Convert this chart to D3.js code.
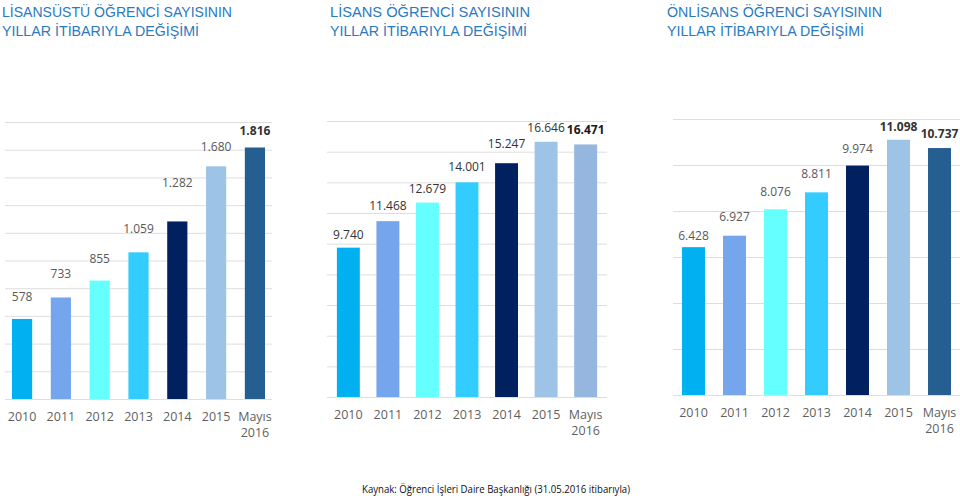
<!DOCTYPE html>
<html>
<head>
<meta charset="utf-8">
<script src="https://cdn.jsdelivr.net/npm/d3@7"></script>
<style>
  body { margin: 0; background: #fff; }
  text { font-family: "Open Sans", "Liberation Sans", sans-serif; }
  .title { font-family: "Liberation Sans", Arial, sans-serif; }
</style>
</head>
<body>
<div id="chart"></div>
<script>
// categories + values
var years = ["2010", "2011", "2012", "2013", "2014", "2015", "Mayıs 2016"];
var lisansustuValues = [578, 733, 855, 1059, 1282, 1680, 1816];
var lisansValues = [9740, 11468, 12679, 14001, 15247, 16646, 16471];
var onlisansValues = [6428, 6927, 8076, 8811, 9974, 11098, 10737];

var lisansustuTitle = ["LİSANSÜSTÜ ÖĞRENCİ SAYISININ", "YILLAR İTİBARIYLA DEĞİŞİMİ"];
var lisansTitle = ["LİSANS ÖĞRENCİ SAYISININ", "YILLAR İTİBARIYLA DEĞİŞİMİ"];
var onlisansTitle = ["ÖNLİSANS ÖĞRENCİ SAYISININ", "YILLAR İTİBARIYLA DEĞİŞİMİ"];
var sourceText = "Kaynak: Öğrenci İşleri Daire Başkanlığı (31.05.2016 itibarıyla)";

var barColors = ["#00B0F0", "#75A5EC", "#66FFFF", "#33CCFF", "#002060", "#9DC3E6", "#255E91"];

var width = 960, height = 496;

// layout of each panel
var panels = [
    {
        title: lisansustuTitle, values: lisansustuValues, max: 2000, step: 200,
        x0: 5, x1: 272, yTop: 122, yBase: 399, pi: 0.48, po: 0.18,
        titleX: 2, titleW: [230, 197],
        lastColor: "#255E91", labelColor: "#595959", boldColor: "#333333",
        bold: [6], gaps: [22, 24, 22, 24, 39, 20, 17]
    },
    {
        title: lisansTitle, values: lisansValues, max: 18000, step: 2000,
        x0: 327, x1: 607, yTop: 121, yBase: 397, pi: 0.42, po: 0.25,
        titleX: 330, titleW: [200, 197],
        lastColor: "#95B6DF", labelColor: "#333333", boldColor: "#1a1a1a",
        bold: [6], gaps: [13, 16, 14, 16, 20, 14, 15]
    },
    {
        title: onlisansTitle, values: onlisansValues, max: 12000, step: 2000,
        x0: 673, x1: 960, yTop: 119, yBase: 395, pi: 0.44, po: 0.22,
        titleX: 667, titleW: [215, 197],
        lastColor: "#255E91", labelColor: "#595959", boldColor: "#333333",
        bold: [5, 6], gaps: [12, 19, 18, 19, 17, 13, 15]
    }
];

var trFormat = d3.formatLocale({
    decimal: ",", thousands: ".", grouping: [3], currency: ["", " TL"]
}).format(",d");

var svg = d3.select("#chart")
    .append("svg")
    .attr("width", width)
    .attr("height", height);

panels.forEach(function (p) {
    var g = svg.append("g");

    var x = d3.scaleBand()
        .domain(years)
        .range([p.x0, p.x1])
        .paddingInner(p.pi)
        .paddingOuter(p.po);

    var y = d3.scaleLinear()
        .domain([0, p.max])
        .range([p.yBase, p.yTop]);

    // gridlines
    g.append("g")
        .attr("transform", "translate(" + p.x0 + ",0)")
        .call(d3.axisLeft(y)
            .tickValues(d3.range(0, p.max + 1, p.step))
            .tickSize(-(p.x1 - p.x0))
            .tickFormat(""))
        .call(function (a) { a.select(".domain").remove(); })
        .selectAll("line")
        .attr("stroke", "#DEDEDE")
        .attr("stroke-width", 1);

    // bars
    g.selectAll(".bar")
        .data(p.values)
        .enter()
        .append("rect")
        .attr("class", "bar")
        .attr("x", function (d, i) { return x(years[i]); })
        .attr("y", function (d) { return y(d); })
        .attr("width", x.bandwidth())
        .attr("height", function (d) { return p.yBase - y(d); })
        .attr("fill", function (d, i) { return i == 6 ? p.lastColor : barColors[i]; });

    // value labels
    g.selectAll(".lbl")
        .data(p.values)
        .enter()
        .append("text")
        .attr("class", "lbl")
        .attr("x", function (d, i) { return x(years[i]) + x.bandwidth() / 2; })
        .attr("y", function (d, i) { return y(d) - p.gaps[i] + 4.5; })
        .attr("text-anchor", "middle")
        .style("font-size", "12px")
        .style("font-weight", function (d, i) { return p.bold.indexOf(i) >= 0 ? "bold" : "normal"; })
        .attr("fill", function (d, i) { return p.bold.indexOf(i) >= 0 ? p.boldColor : p.labelColor; })
        .text(function (d) { return trFormat(d); });

    // x axis labels (two lines for "Mayıs 2016")
    var xa = g.append("g")
        .attr("transform", "translate(0," + p.yBase + ")")
        .call(d3.axisBottom(x).tickSize(0).tickFormat(""));
    xa.select(".domain").remove();
    xa.selectAll(".tick").each(function (d) {
        var parts = d.split(" ");
        var t = d3.select(this).append("text")
            .attr("text-anchor", "middle")
            .attr("fill", "#5f5f5f")
            .style("font-size", "12.5px");
        parts.forEach(function (s, k) {
            t.append("tspan").attr("x", 0).attr("y", 22 + k * 16).text(s);
        });
    });

    // title, squeezed to the reference width
    p.title.forEach(function (line, k) {
        g.append("text")
            .attr("class", "title")
            .attr("x", p.titleX)
            .attr("y", 16.5 + k * 19.5)
            .attr("fill", "#2A7ABF")
            .style("font-size", "15.5px")
            .attr("textLength", p.titleW[k])
            .attr("lengthAdjust", "spacingAndGlyphs")
            .text(line);
    });
});

// source note
svg.append("text")
    .attr("x", 362)
    .attr("y", 493)
    .attr("fill", "#111")
    .style("font-size", "11px")
    .attr("textLength", 268)
    .attr("lengthAdjust", "spacingAndGlyphs")
    .text(sourceText);
</script>
</body>
</html>
